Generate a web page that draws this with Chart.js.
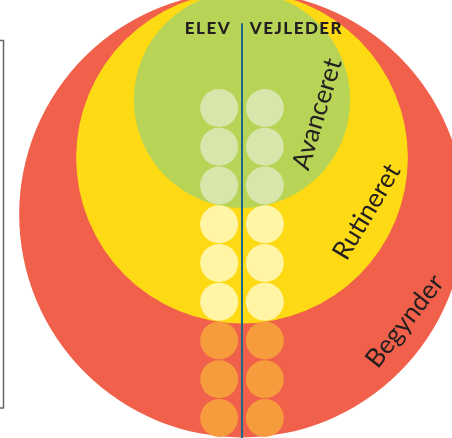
<!DOCTYPE html>
<html>
<head>
<meta charset="utf-8">
<script src="https://cdn.jsdelivr.net/npm/chart.js@4"></script>
<style>
  html, body { margin: 0; padding: 0; background: #fff; }
  #wrap { width: 452px; height: 438px; }
</style>
</head>
<body>
<div id="wrap"><canvas id="niveau"></canvas></div>
<script>
// the three levels, outermost first
const levels = ["Begynder", "Rutineret", "Avanceret"];
const levelRadius = [5.75, 4.28, 2.79];
const levelColors = ["#f0604a", "#feda15", "#b7d456"];
const topY = -2.0; // the circles all touch the top here

// where each level name sits (along its ring)
const labelX = [4.2, 3.22, 1.94];
const labelY = [6.5, 3.68, 1.16];
const labelAngle = [-52, -59, -73];

// two columns of dots, nine rows
const columns = ["ELEV", "VEJLEDER"];
const columnX = [-0.59, 0.59];
const rows = [1, 2, 3, 4, 5, 6, 7, 8, 9];
const rowLevel = [2, 2, 2, 1, 1, 1, 0, 0, 0];
const dotColors = ["#f69c3d", "#fff5a5", "#d8e6ac"];
const dotRadius = 0.49;

const lineColor = "#1b6b88";
const textColor = "#231f20";

function unitPx(chart) {
  const x = chart.scales.x;
  return x.getPixelForValue(1) - x.getPixelForValue(0);
}

const circleData = levels.map((name, i) => ({ x: 0, y: topY + levelRadius[i] }));

const dotData = [];
const dotFill = [];
rows.forEach((row, r) => {
  columnX.forEach((cx) => {
    dotData.push({ x: cx, y: row });
    dotFill.push(dotColors[rowLevel[r]]);
  });
});

const labelsPlugin = {
  id: "labels",
  afterDatasetsDraw(chart) {
    const ctx = chart.ctx;
    const xs = chart.scales.x;
    const ys = chart.scales.y;
    ctx.save();
    ctx.fillStyle = textColor;

    // column headers
    ctx.font = "900 17px Lato";
    ctx.letterSpacing = "1.5px";
    ctx.textBaseline = "middle";
    ctx.textAlign = "left";
    const elevW = ctx.measureText(columns[0]).width;
    ctx.fillText(columns[0], xs.getPixelForValue(-0.28) - elevW, ys.getPixelForValue(-1.06));
    ctx.fillText(columns[1], xs.getPixelForValue(0.2), ys.getPixelForValue(-1.06));

    // level names
    ctx.letterSpacing = "0px";
    ctx.font = "26px Lato";
    ctx.textAlign = "center";
    levels.forEach((name, i) => {
      ctx.save();
      ctx.translate(xs.getPixelForValue(labelX[i]), ys.getPixelForValue(labelY[i]));
      ctx.rotate(labelAngle[i] * Math.PI / 180);
      ctx.fillText(name, 0, 0);
      ctx.restore();
    });
    ctx.restore();
  },
  afterDraw(chart) {
    // thin frame edge on the left
    const ctx = chart.ctx;
    ctx.save();
    ctx.strokeStyle = "#666";
    ctx.lineWidth = 1.5;
    ctx.beginPath();
    ctx.moveTo(0, 40.5);
    ctx.lineTo(3.5, 40.5);
    ctx.lineTo(3.5, 408);
    ctx.lineTo(0, 408);
    ctx.stroke();
    ctx.restore();
  },
};

const chart = new Chart(document.getElementById("niveau").getContext("2d"), {
  type: "scatter",
  data: {
    datasets: [
      {
        type: "line",
        data: [{ x: 0, y: -1.19 }, { x: 0, y: 9.7 }],
        borderColor: lineColor,
        borderWidth: 2,
        pointRadius: 0,
        showLine: true,
        order: 0,
      },
      {
        data: dotData,
        backgroundColor: dotFill,
        borderWidth: 0,
        pointRadius: (c) => unitPx(c.chart) * dotRadius,
        order: 1,
      },
      {
        data: circleData,
        backgroundColor: levelColors,
        borderWidth: 0,
        pointRadius: (c) => unitPx(c.chart) * levelRadius[c.dataIndex],
        order: 2,
      },
    ],
  },
  options: {
    responsive: true,
    maintainAspectRatio: false,
    animation: false,
    events: [],
    layout: { padding: 0 },
    plugins: { legend: { display: false }, tooltip: { enabled: false } },
    scales: {
      x: { type: "linear", min: -6.245, max: 5.419, display: false },
      y: { type: "linear", min: -1.787, max: 9.516, reverse: true, display: false },
    },
  },
  plugins: [labelsPlugin],
});
</script>
</body>
</html>
